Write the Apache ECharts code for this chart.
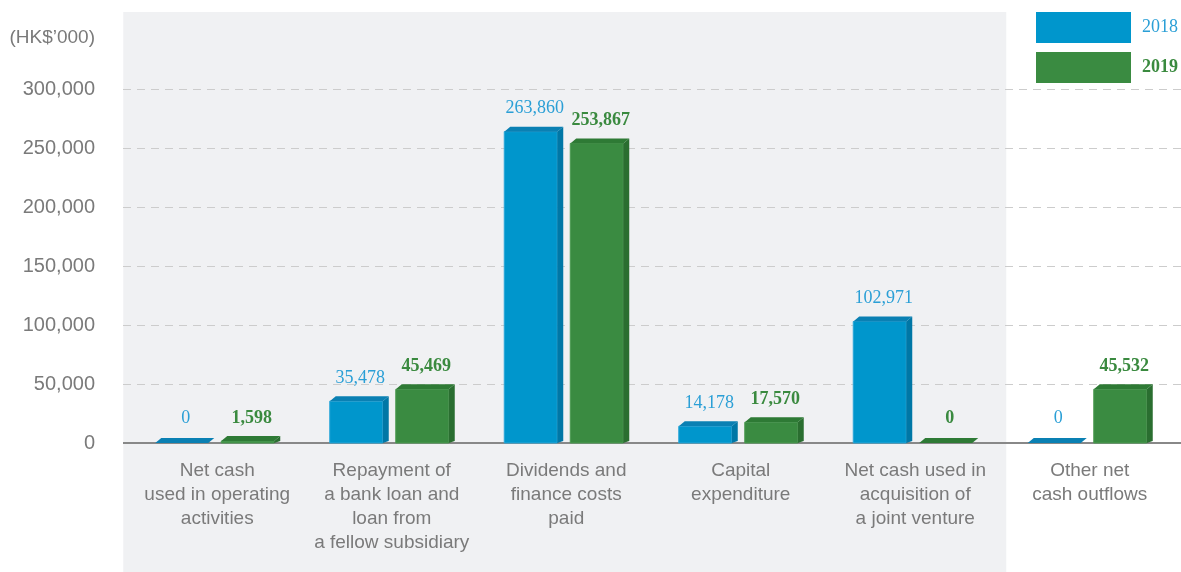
<!DOCTYPE html>
<html>
<head>
<meta charset="utf-8">
<script src="https://cdn.jsdelivr.net/npm/echarts@6/dist/echarts.min.js"></script>
<style>html,body{margin:0;padding:0;background:#fff}#c{width:1181px;height:572px}</style>
</head>
<body>
<div id="c"></div>
<script>
const categories = [
  "Net cash\nused in operating\nactivities",
  "Repayment of\na bank loan and\nloan from\na fellow subsidiary",
  "Dividends and\nfinance costs\npaid",
  "Capital\nexpenditure",
  "Net cash used in\nacquisition of\na joint venture",
  "Other net\ncash outflows"
];
const values2018 = [0, 35478, 263860, 14178, 102971, 0];
const values2019 = [1598, 45469, 253867, 17570, 0, 45532];
const yTicks = { min: 0, max: 300000, interval: 50000 };
const unitLabel = "(HK$\u2019000)";

const chart = echarts.init(document.getElementById('c'));

function makeRender(sideIdx, pal, labelColor, labelWeight) {
  return function (params, api) {
    const idx = api.value(0);
    const val = api.value(1);
    const base = api.coord([idx, 0]);
    const top = api.coord([idx, val]);
    const cx = base[0];
    const w = 53, d = 6, h = 5;
    const x0 = sideIdx === 0 ? cx - 62 : cx + 4;
    const y0 = base[1];
    const y1 = top[1];
    const children = [];
    if (y0 - y1 > 0.5) {
      children.push({ type: 'rect', shape: { x: x0, y: y1, width: w, height: y0 - y1 },
        style: { fill: pal.front, stroke: pal.edge, lineWidth: 1 } });
      children.push({ type: 'polygon', shape: { points: [[x0 + w, y1], [x0 + w + d, y1 - h], [x0 + w + d, y0 - 2], [x0 + w, y0]] },
        style: { fill: pal.side } });
    }
    children.push({ type: 'polygon', shape: { points: [[x0, y1], [x0 + d, y1 - h], [x0 + w + d, y1 - h], [x0 + w, y1]] },
      style: { fill: pal.top } });
    const off = val === 0 ? 25 : 23;
    children.push({ type: 'text', style: {
      text: val.toLocaleString('en-US'), x: x0 + (w + d) / 2 + 1, y: y1 - off,
      align: 'center', verticalAlign: 'middle',
      fontFamily: 'Liberation Serif', fontSize: 18, fontWeight: labelWeight, fill: labelColor } });
    return { type: 'group', children };
  };
}

const blue = { front: '#0096cc', side: '#0077a6', top: '#0a80b3', edge: '#2aa6d8' };
const green = { front: '#3a8b41', side: '#2a6e30', top: '#2e7a35', edge: '#4c9a52' };
const textGrey = '#7a7a7a';

const option = {
  backgroundColor: '#ffffff',
  animation: false,
  legend: {
    orient: 'vertical', left: 1036, top: 12, icon: 'rect', padding: 0,
    itemWidth: 95, itemHeight: 31, itemGap: 9, selectedMode: false,
    textStyle: { fontFamily: 'Liberation Serif', fontSize: 18, padding: [0, 0, 0, 6] },
    data: [
      { name: '2018', textStyle: { color: '#2a9fd6' } },
      { name: '2019', textStyle: { color: '#3a8a3f', fontWeight: 'bold' } }
    ]
  },
  grid: { left: 130, right: 4, top: 89, bottom: 129 },
  xAxis: {
    type: 'category', data: categories,
    axisLine: { show: false },
    axisTick: { show: false },
    axisLabel: { interval: 0, margin: 16, fontFamily: 'Liberation Sans', fontSize: 19, lineHeight: 24, color: textGrey },
    splitLine: { show: false }
  },
  yAxis: {
    type: 'value', min: yTicks.min, max: yTicks.max, interval: yTicks.interval,
    name: unitLabel, nameLocation: 'end', nameGap: 42,
    nameTextStyle: { fontFamily: 'Liberation Sans', fontSize: 19, color: textGrey, align: 'right', padding: [0, 35, 0, 0] },
    axisLine: { show: false }, axisTick: { show: false },
    axisLabel: { margin: 35, fontFamily: 'Liberation Sans', fontSize: 20, color: textGrey,
      formatter: v => v.toLocaleString('en-US') },
    splitLine: { show: false }
  },
  series: [
    { name: '2018', type: 'custom', itemStyle: { color: '#0096cc' }, z: 5,
      renderItem: makeRender(0, blue, '#2a9fd6', 'normal'),
      encode: { x: 0, y: 1 },
      data: values2018.map((v, i) => [i, v]) },
    { name: '2019', type: 'custom', itemStyle: { color: '#3a8b41' }, z: 5,
      renderItem: makeRender(1, green, '#3a8a3f', 'bold'),
      encode: { x: 0, y: 1 },
      data: values2019.map((v, i) => [i, v]) }
  ]
};
chart.setOption(option);

// Background panel, dashed grid lines and baseline, positioned from the chart's own scales
const lineLeft = 123, lineRight = 1181;
const panelLeftX = chart.convertToPixel({ xAxisIndex: 0 }, 0) - 94;
const panelRightX = chart.convertToPixel({ xAxisIndex: 0 }, 4) + 91;
const g = [{
  type: 'rect', z: -10, silent: true,
  shape: { x: panelLeftX, y: 12, width: panelRightX - panelLeftX, height: 560 },
  style: { fill: '#f0f1f3' }
}];
for (let v = yTicks.min + yTicks.interval; v <= yTicks.max; v += yTicks.interval) {
  const y = Math.round(chart.convertToPixel({ yAxisIndex: 0 }, v)) + 0.5;
  g.push({ type: 'line', z: -5, silent: true,
    shape: { x1: lineLeft, y1: y, x2: lineRight, y2: y },
    style: { stroke: '#cccccc', lineWidth: 1, lineDash: [8, 6] } });
}
const yb = chart.convertToPixel({ yAxisIndex: 0 }, 0);
g.push({ type: 'line', z: 1, silent: true,
  shape: { x1: lineLeft, y1: yb, x2: lineRight, y2: yb },
  style: { stroke: '#888888', lineWidth: 2 } });
chart.setOption({ graphic: g });
</script>
</body>
</html>
